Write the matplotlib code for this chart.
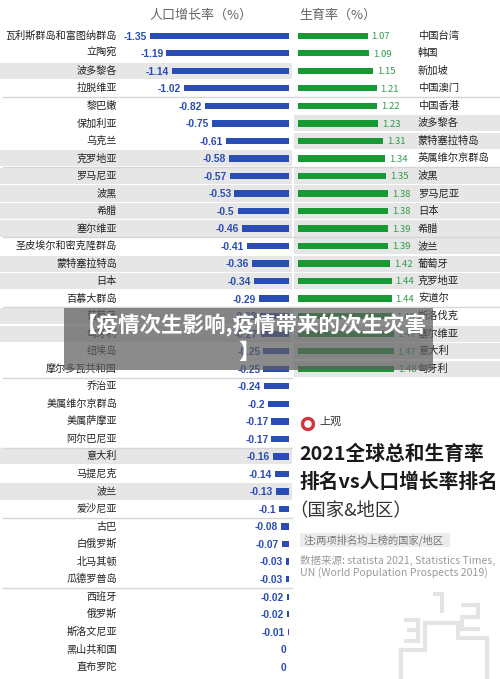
import matplotlib
matplotlib.use('Agg')
import matplotlib.pyplot as plt
import matplotlib.patches as mpatches
from matplotlib.lines import Line2D
from matplotlib.transforms import blended_transform_factory

plt.rcParams['font.family'] = ['Noto Sans CJK SC', 'DejaVu Sans']

# population growth rate (%), ranked
pop_countries = ['瓦利斯群岛和富图纳群岛', '立陶宛', '波多黎各', '拉脱维亚',
                 '黎巴嫩', '保加利亚', '乌克兰', '克罗地亚',
                 '罗马尼亚', '波黑', '希腊', '塞尔维亚',
                 '圣皮埃尔和密克隆群岛', '蒙特塞拉特岛', '日本', '百慕大群岛',
                 '葡萄牙', '匈牙利', '纽埃岛', '摩尔多瓦共和国',
                 '乔治亚', '美属维尔京群岛', '美属萨摩亚', '阿尔巴尼亚',
                 '意大利', '马提尼克', '波兰', '爱沙尼亚',
                 '古巴', '白俄罗斯', '北马其顿', '瓜德罗普岛',
                 '西班牙', '俄罗斯', '斯洛文尼亚', '黑山共和国', '直布罗陀']
pop_values = [-1.35, -1.19, -1.14, -1.02,
              -0.82, -0.75, -0.61, -0.58,
              -0.57, -0.53, -0.5, -0.46,
              -0.41, -0.36, -0.34, -0.29,
              -0.28, -0.27, -0.25, -0.25,
              -0.24, -0.2, -0.17, -0.17,
              -0.16, -0.14, -0.13, -0.1,
              -0.08, -0.07, -0.03, -0.03,
              -0.02, -0.02, -0.01, 0, 0]

# total fertility rate, ranked
fert_countries = ['中国台湾', '韩国', '新加坡', '中国澳门',
                  '中国香港', '波多黎各', '蒙特塞拉特岛', '英属维尔京群岛',
                  '波黑', '罗马尼亚', '日本', '希腊',
                  '波兰', '葡萄牙', '克罗地亚', '安道尔',
                  '斯洛伐克', '塞尔维亚', '意大利', '匈牙利']
fert_values = [1.07, 1.09, 1.15, 1.21,
               1.22, 1.23, 1.31, 1.34,
               1.35, 1.38, 1.38, 1.39,
               1.39, 1.42, 1.44, 1.44,
               1.45, 1.47, 1.47, 1.48]

both = set(pop_countries) & set(fert_countries)

W, H = 500, 679
def fx(px):
    return px / W
def fy(py):
    return 1 - py / H

fig = plt.figure(figsize=(W / 100, H / 100), dpi=100)
fig.patch.set_facecolor('white')

pitch = 17.53
top = 35.7 - pitch / 2
bot = top + 37 * pitch

blue = '#2a4cb5'
green = '#179a33'
hl = '#e6e6e6'
sep = '#d6d6d6'

# ---- left panel: population growth ----
axL = fig.add_axes([0, fy(bot), fx(293), (bot - top) / H])
axL.set_xlim(-289 / 103, 4 / 103)
axL.set_ylim(36.5, -0.5)
axL.axis('off')
trL = blended_transform_factory(fig.transFigure, axL.transData)

for i, (c, v) in enumerate(zip(pop_countries, pop_values)):
    if c in both:
        axL.axhspan(i - 0.46, i + 0.46, xmin=0, xmax=0.997, color=hl, lw=0, zorder=0)
    axL.text(fx(117), i, c, transform=trL, ha='right', va='center',
             fontsize=7.3, color='#222222')
    axL.text(v - 3 / 103, i + 0.05, f'{v:g}', ha='right', va='center',
             fontsize=7.4, color=blue, fontweight='bold', family='Liberation Sans')
axL.barh(range(len(pop_values)), pop_values, height=0.36, color=blue, zorder=2)
for yy in [3.5, 7.5, 11.5, 15.5, 19.5, 23.5, 27.5, 31.5]:
    axL.axhline(yy, color=sep, lw=1, xmin=0.01, xmax=1, zorder=1)

# ---- right panel: fertility ----
axR = fig.add_axes([fx(293), fy(bot), fx(207), (bot - top) / H])
axR.set_xlim((293 - 298) / 65, (500 - 298) / 65)
axR.set_ylim(36.5, -0.5)
axR.axis('off')
trR = blended_transform_factory(fig.transFigure, axR.transData)

for i, (c, v) in enumerate(zip(fert_countries, fert_values)):
    if c in both:
        axR.axhspan(i - 0.46, i + 0.46, xmin=0.005, xmax=1, color=hl, lw=0, zorder=0)
    axR.text(fx(418), i, c, transform=trR, ha='left', va='center',
             fontsize=7.4, color='#222222')
    axR.text(v + 4 / 65, i + 0.05, f'{v:.2f}', ha='left', va='center',
             fontsize=6.8, color='#2f9a45')
axR.barh(range(len(fert_values)), fert_values, height=0.36, color=green, zorder=2)
for yy in [3.5, 7.5, 11.5, 15.5]:
    axR.axhline(yy, color=sep, lw=1, zorder=1)

# column titles
fig.text(fx(201), fy(15), '人口增长率（%）', ha='center', va='center',
         fontsize=9.4, color='#666666')
fig.text(fx(299), fy(15), '生育率（%）', ha='left', va='center',
         fontsize=9.4, color='#666666')

# ---- info panel, lower right ----
fig.add_artist(mpatches.Ellipse((fx(308), fy(424)), 11 / W, 11 / H, transform=fig.transFigure,
                                fill=False, edgecolor='#d1323b', lw=2.4))
fig.text(fx(319), fy(422), '上观', ha='left', va='center', fontsize=8, color='#333333')
fig.text(fx(299), fy(454), '2021全球总和生育率', ha='left', va='center',
         fontsize=14.2, fontweight='bold', color='#1a1a1a')
fig.text(fx(299), fy(482), '排名vs人口增长率排名', ha='left', va='center',
         fontsize=14.2, fontweight='bold', color='#1a1a1a')
fig.text(fx(289), fy(511), '（国家&地区）', ha='left', va='center',
         fontsize=13.2, color='#333333')
fig.add_artist(mpatches.Rectangle((fx(300), fy(547)), fx(150), 14 / H,
                                  transform=fig.transFigure, facecolor='#ececec',
                                  edgecolor='none'))
fig.text(fx(304), fy(540), '注:两项排名均上榜的国家/地区', ha='left', va='center',
         fontsize=7.4, color='#777777')
fig.text(fx(300), fy(560), '数据来源: statista 2021, Statistics Times,', ha='left',
         va='center', fontsize=7.6, color='#9a9a9a')
fig.text(fx(300), fy(573), 'UN (World Population Prospects 2019)', ha='left',
         va='center', fontsize=7.6, color='#9a9a9a')

# podium icon
icon = '#e4e4e4'
def poly(pts):
    fig.add_artist(Line2D([fx(p[0]) for p in pts], [fy(p[1]) for p in pts],
                          transform=fig.transFigure, color=icon, lw=3,
                          solid_joinstyle='miter', solid_capstyle='butt'))
poly([(401, 680), (401, 650), (425, 650), (425, 623), (458, 623), (458, 638),
      (487, 638), (487, 680)])
poly([(433, 594), (442, 594), (442, 613)])
poly([(461, 605), (478, 605), (478, 617), (462, 617), (462, 629), (480, 629)])
poly([(404, 620), (418, 620), (418, 641), (404, 641)])
poly([(407, 630), (418, 630)])

# overlay banner (sits over the chart, as in the source image)
fig.add_artist(mpatches.Rectangle((fx(64), fy(370)), fx(433 - 64), (370 - 308) / H,
                                  transform=fig.transFigure, facecolor='#5e5e5e',
                                  alpha=0.72, edgecolor='none', zorder=10))
fig.text(fx(76), fy(325), '【疫情次生影响,疫情带来的次生灾害', ha='left', va='center',
         fontsize=15.5, fontweight='bold', color='white', zorder=11)
fig.text(fx(238), fy(352), '】', ha='left', va='center',
         fontsize=15.5, fontweight='bold', color='white', zorder=11)

fig.savefig('out.png', dpi=100, facecolor='white')
